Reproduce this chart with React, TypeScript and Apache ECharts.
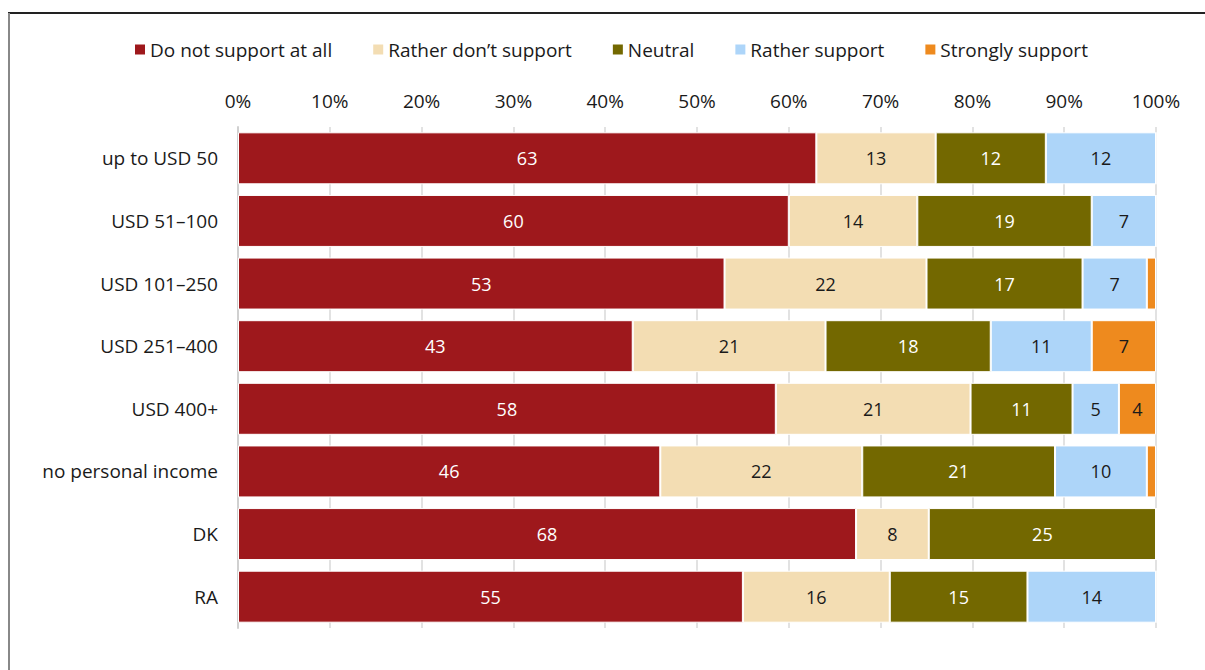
import React, { useEffect, useRef } from "react";
import * as echarts from "echarts";

const categories = [
  "up to USD 50",
  "USD 51–100",
  "USD 101–250",
  "USD 251–400",
  "USD 400+",
  "no personal income",
  "DK",
  "RA",
];

const seriesNames = [
  "Do not support at all",
  "Rather don’t support",
  "Neutral",
  "Rather support",
  "Strongly support",
];

const doNotSupport = [63, 60, 53, 43, 58, 46, 68, 55];
const ratherDont = [13, 14, 22, 21, 21, 22, 8, 16];
const neutral = [12, 19, 17, 18, 11, 21, 25, 15];
const ratherSupport = [12, 7, 7, 11, 5, 10, 0, 14];
const stronglySupport = [0, 0, 1, 7, 4, 1, 0, 0];

const tickLabels = ["0%", "10%", "20%", "30%", "40%", "50%", "60%", "70%", "80%", "90%", "100%"];

const colors = ["#9E181C", "#F3DDB3", "#736800", "#ADD5F9", "#EE8A1E"];
const labelColors = ["#ffffff", "#1a1a1a", "#ffffff", "#1a1a1a", "#1a1a1a"];

const FONT = "'Open Sans', 'Noto Sans', sans-serif";

export default function App() {
  const ref = useRef<HTMLDivElement>(null);

  useEffect(() => {
    if (!ref.current) return;
    const chart = echarts.init(ref.current, undefined, { renderer: "svg" });
    const all = [doNotSupport, ratherDont, neutral, ratherSupport, stronglySupport];
    const sums = categories.map((_, i) => all.reduce((s, arr) => s + arr[i], 0));

    const series = all.map((arr, k) => ({
      name: seriesNames[k],
      type: "bar",
      stack: "total",
      barCategoryGap: "17%",
      data: arr.map((v, i) => ({ value: (v / sums[i]) * 100, raw: v })),
      itemStyle: { color: colors[k], borderColor: "#ffffff", borderWidth: 1 },
      label: {
        show: true,
        position: "inside",
        color: labelColors[k],
        fontFamily: FONT,
        fontSize: 18,
        formatter: (p: any) => (p.data.raw >= 3 ? String(p.data.raw) : ""),
      },
    }));

    chart.setOption({
      animation: false,
      textStyle: { fontFamily: FONT },
      legend: {
        top: 35,
        left: 128,
        itemWidth: 12,
        itemHeight: 12,
        itemGap: 39,
        icon: "rect",
        textStyle: { fontFamily: FONT, fontSize: 19, color: "#1a1a1a", padding: [0, 0, 0, -1] },
        data: seriesNames,
      },
      grid: { left: 238, top: 127, width: 918, height: 501 },
      xAxis: {
        type: "value",
        position: "top",
        min: 0,
        max: 100,
        interval: 10,
        axisLine: { show: false },
        axisTick: { show: false },
        axisLabel: {
          margin: 17,
          fontFamily: FONT,
          fontSize: 19,
          color: "#1a1a1a",
          formatter: (v: number) => tickLabels[Math.round(v / 10)],
        },
        splitLine: { show: true, lineStyle: { color: "#d9d9d9", width: 1.5 } },
      },
      yAxis: {
        type: "category",
        inverse: true,
        data: categories,
        axisLine: { show: true, lineStyle: { color: "#d0d0d0", width: 2 } },
        axisTick: { show: false },
        axisLabel: { margin: 20, fontFamily: FONT, fontSize: 19, color: "#1a1a1a" },
      },
      graphic: [
        { type: "line", shape: { x1: 8, y1: 13, x2: 1205, y2: 13 }, style: { stroke: "#222", lineWidth: 2 } },
        { type: "line", shape: { x1: 9, y1: 13, x2: 9, y2: 670 }, style: { stroke: "#888", lineWidth: 2 } },
      ],
      series,
    });
    return () => chart.dispose();
  }, []);

  return (
    <div
      ref={ref}
      style={{ position: "fixed", left: 0, top: 0, width: 1205, height: 670, background: "#fff" }}
    />
  );
}
